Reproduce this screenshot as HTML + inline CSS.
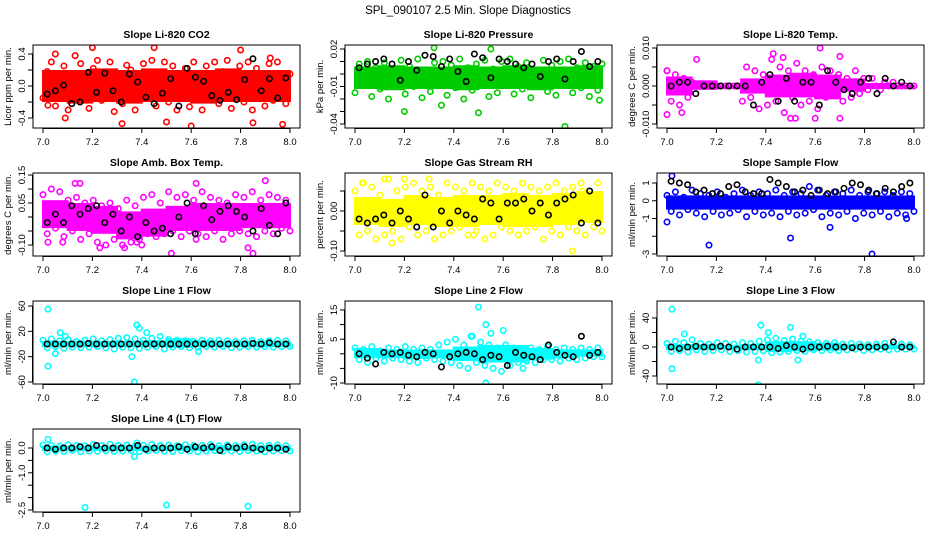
<!DOCTYPE html>
<html><head><meta charset="utf-8"><style>
html,body{margin:0;padding:0;background:#fff}
svg{display:block;font-family:"Liberation Sans",Arial,sans-serif}
</style></head><body>
<svg id="chart" width="936" height="540" viewBox="0 0 936 540">
<text x="468" y="14" text-anchor="middle" font-size="11.5">SPL_090107  2.5 Min. Slope Diagnostics</text>
</svg>
<script>
// ---- data ----
const titles=["Slope Li-820 CO2","Slope Li-820 Pressure","Slope Li-820 Temp.","Slope Amb. Box Temp.","Slope Gas Stream RH","Slope Sample Flow","Slope Line 1 Flow","Slope Line 2 Flow","Slope Line 3 Flow","Slope Line 4 (LT) Flow"];
const yTitles=["Licor ppm per min.","kPa per min.","degrees C per min.","degrees C per min.","percent per min.","ml/min per min.","ml/min per min.","ml/min per min.","ml/min per min.","ml/min per min."];
const colors=["#ff0000","#00cd00","#ff00ff","#ff00ff","#ffff00","#0000ff","#00ffff","#00ffff","#00ffff","#00ffff"];
const xTicks=[7.0,7.2,7.4,7.6,7.8,8.0];
const xTickLabels=["7.0","7.2","7.4","7.6","7.8","8.0"];
const yTicks=[[-0.4,-0.2,0,0.2,0.4],[0.02,0.01,0,-0.01,-0.02,-0.03,-0.04],[0.01,0.005,0,-0.005,-0.01],[0.15,0.1,0.05,0,-0.05,-0.1],[0.05,0,-0.05,-0.1],[1,0,-1,-2,-3],[60,20,-20,-60],[15,10,5,0,-5,-10],[40,20,0,-20,-40],[0,-0.5,-1,-1.5,-2,-2.5]];
const yTickLabels=[["-0.4","","0.0","","0.4"],["0.02","","","-0.01","","","-0.04"],["0.010","","0.000","","-0.010"],["0.15","","0.05","","","-0.10"],["","0.00","","-0.10"],["1","0","-1","","-3"],["60","20","-20","-60"],["15","","5","","","-10"],["40","","0","","-40"],["0.0","","-1.0","","","-2.5"]];
const bandLo=[[-0.2,-0.22,-0.2,-0.22,-0.2,-0.2,-0.22,-0.2,-0.2,-0.2],[-0.012,-0.013,-0.012,-0.012,-0.013,-0.012,-0.012,-0.013,-0.012,-0.012],[-0.0025,-0.001,-0.0002,-0.002,-0.003,-0.003,-0.0035,-0.0015,-0.0008,-0.0003],[-0.04,-0.05,-0.06,-0.08,-0.07,-0.05,-0.05,-0.05,-0.04,-0.04],[-0.035,-0.04,-0.035,-0.04,-0.04,-0.035,-0.04,-0.04,-0.035,-0.03],[-0.5,-0.5,-0.5,-0.5,-0.5,-0.5,-0.5,-0.5,-0.5,-0.5],[-5,-5,-5,-5,-5,-6,-5,-5,-5,-5],[-1.5,-1.5,-1.8,-1.5,-2.5,-3,-3,-2,-1.5,-1],[-4,-4,-3,-4,-7,-6,-5,-3,-3,-3],[-0.12,-0.12,-0.12,-0.12,-0.12,-0.12,-0.12,-0.12,-0.12,-0.12]];
const bandHi=[[0.2,0.2,0.22,0.2,0.22,0.2,0.2,0.22,0.2,0.2],[0.006,0.007,0.006,0.006,0.007,0.006,0.007,0.006,0.006,0.007],[0.0025,0.0015,0.0002,0.002,0.003,0.0035,0.003,0.002,0.0008,0.0003],[0.06,0.05,0.04,0.02,0.03,0.04,0.05,0.05,0.05,0.05],[0.035,0.03,0.04,0.035,0.04,0.04,0.045,0.04,0.045,0.05],[0.3,0.3,0.3,0.3,0.3,0.3,0.3,0.3,0.3,0.3],[5,5,5,5,6,9,6,5,5,5],[2,1.5,1.5,1.5,2.5,3,3,2,1.5,1.5],[4,4,3,4,8,8,6,4,3,3],[0.1,0.1,0.1,0.1,0.1,0.1,0.1,0.1,0.1,0.1]];
const colorPts=[
[-0.15,0.18,0.3,-0.25,0.1,0.25,-0.3,0.15,-0.1,0.28,0.05,-0.28,0.22,0.32,-0.18,0.12,0.3,-0.32,0.08,-0.22,0.26,0.2,-0.3,0.1,0.28,-0.12,0.32,-0.25,0.15,0.3,-0.2,0.25,-0.3,0.1,0.22,-0.26,0.3,0.05,-0.3,0.25,-0.15,0.3,-0.22,0.18,0.32,-0.28,0.12,0.25,-0.2,0.3,-0.3,0.22,0.1,-0.25,0.28,-0.18,0.3,0.05,-0.22,0.15],
[-0.015,0.008,-0.005,0.01,-0.018,0.005,-0.012,0.009,-0.02,0.004,-0.008,0.011,-0.016,0.006,-0.01,0.012,-0.019,0.003,-0.014,0.009,-0.006,0.01,-0.017,0.007,-0.011,0.012,-0.02,0.005,-0.013,0.008,-0.009,0.011,-0.018,0.004,-0.015,0.01,-0.007,0.012,-0.016,0.006,-0.012,0.009,-0.019,0.003,-0.01,0.011,-0.014,0.007,-0.017,0.01,-0.008,0.012,-0.015,0.005,-0.011,0.009,-0.018,0.006,-0.013,0.008],
[0.004,-0.004,0.003,-0.005,0.002,-0.003,0.001,0,0,0,0,0,0,0,0,0,0,0,-0.004,0.005,-0.003,0.004,-0.006,0.003,-0.005,0.007,-0.004,0.005,-0.007,0.004,-0.003,0.006,-0.005,0.004,-0.004,0.003,-0.006,0.005,-0.003,0.004,-0.002,0.003,-0.004,0.002,-0.003,0.004,-0.002,0.002,-0.001,0.002,0,-0.001,0.001,0,0.001,0,0,0,0,0],
[0.08,-0.06,0.1,-0.04,0.09,-0.07,0.06,-0.05,0.07,-0.08,0.05,-0.06,0.06,-0.09,0.04,-0.1,0.05,-0.08,0.03,-0.1,0.06,-0.09,0.04,-0.08,0.07,-0.06,0.08,-0.07,0.05,-0.06,0.09,-0.05,0.07,-0.07,0.08,-0.05,0.06,-0.06,0.09,-0.07,0.07,-0.05,0.06,-0.08,0.05,-0.06,0.08,-0.05,0.07,-0.06,0.09,-0.07,0.06,-0.05,0.08,-0.06,0.07,-0.04,0.06,-0.05],
[0.05,-0.06,0.07,-0.05,0.06,-0.07,0.04,-0.06,0.08,-0.05,0.05,-0.07,0.06,-0.04,0.07,-0.06,0.05,-0.05,0.06,-0.07,0.04,-0.06,0.07,-0.05,0.06,-0.04,0.05,-0.06,0.07,-0.05,0.06,-0.07,0.05,-0.06,0.07,-0.04,0.06,-0.05,0.05,-0.06,0.07,-0.05,0.06,-0.04,0.05,-0.07,0.06,-0.05,0.07,-0.06,0.05,-0.04,0.06,-0.05,0.07,-0.06,0.05,-0.04,0.07,-0.05],
[0.3,-0.6,0.5,-0.8,0.2,-0.5,0.6,-0.7,0.4,-0.9,0.3,-0.6,0.5,-0.8,0.2,-0.7,0.4,-0.5,0.6,-0.9,0.3,-0.6,0.5,-0.8,0.4,-0.7,0.6,-0.9,0.3,-0.6,0.5,-0.8,0.4,-0.7,0.8,-0.5,0.6,-0.9,0.3,-0.7,0.5,-0.8,0.4,-0.6,0.6,-1.0,0.3,-0.7,0.5,-0.8,0.4,-0.6,0.5,-0.9,0.3,-0.7,0.5,-0.8,0.4,-0.6],
[6,-6,8,-4,5,-7,7,-5,4,-6,6,-5,8,-4,5,-6,7,-8,9,-5,10,-6,8,-7,6,-5,9,-4,12,-8,7,-5,6,-4,5,-6,4,-5,6,-4,5,-5,6,-4,5,-6,4,-5,5,-4,6,-5,4,-4,5,-5,6,-4,5,-4],
[2,-2,1.5,-3,2.5,-1.5,1,-2.5,2,-1.5,1.5,-2,2.5,-2.5,1.5,-3,2,-1.5,1.5,-2,3,-2.5,4,-3,5,-4,3,-5,6,-3,4,-4,3,-5,2,-6,3,-4,2,-3,1.5,-2.5,2,-3,1.5,-2,2.5,-2,1.5,-2.5,2,-1.5,1.5,-2,2,-1.5,1.5,-1,2,-1],
[5,-6,8,-5,6,-7,10,-4,5,-6,4,-5,6,-4,5,-6,4,-5,6,-7,5,-6,8,-5,10,-8,12,-7,9,-6,11,-5,8,-6,7,-4,6,-5,5,-4,6,-5,4,-4,5,-3,4,-5,3,-4,4,-3,5,-4,3,-3,4,-3,3,-3],
[0.12,-0.15,0.1,-0.12,0.08,-0.14,0.13,-0.1,0.1,-0.15,0.09,-0.12,0.14,-0.13,0.1,-0.11,0.15,-0.14,0.1,-0.12,0.12,-0.1,0.09,-0.15,0.11,-0.12,0.14,-0.1,0.1,-0.13,0.12,-0.14,0.09,-0.1,0.13,-0.12,0.1,-0.15,0.11,-0.12,0.14,-0.1,0.09,-0.13,0.12,-0.12,0.1,-0.14,0.13,-0.1,0.15,-0.12,0.1,-0.15,0.11,-0.12,0.12,-0.1,0.09,-0.12]];
const blackPts=[
[-0.1,-0.06,0.01,-0.22,-0.2,0.17,-0.08,0.16,-0.06,-0.2,0.15,0.05,-0.14,-0.22,-0.09,0.09,-0.25,0.22,0.11,0.06,-0.12,-0.18,-0.08,-0.17,0.08,0.34,-0.06,0.09,-0.15,0.1],
[0.005,0.008,0.01,0.012,0.008,-0.005,0.01,0.003,0.015,0.014,0.006,0.012,0.002,-0.006,0.016,0.013,-0.003,0.012,0.01,0.008,0.005,0.008,-0.002,0.01,0.012,-0.004,0.01,0.018,0.006,0.01],
[0,0.001,0.001,-0.002,0,0,0,0,0,0,-0.005,0.001,0.003,-0.004,0.002,-0.004,0.001,0.001,-0.005,0.004,0.001,-0.001,-0.002,0.001,0.002,-0.002,0.002,0,0.001,0],
[-0.02,0.01,-0.02,0.04,0.01,0.03,0.04,-0.02,0.01,-0.05,0.0,-0.07,-0.02,-0.05,-0.04,-0.06,0.0,0.05,-0.06,0.04,-0.01,0.02,0.04,0.02,0.0,-0.05,0.03,-0.03,-0.06,0.05],
[-0.02,-0.03,-0.02,-0.01,-0.03,0.0,-0.02,-0.04,0.04,-0.04,0.0,-0.03,0.0,-0.01,-0.02,0.03,0.02,-0.02,0.02,0.02,0.03,0.0,0.02,-0.01,0.02,0.03,0.04,-0.03,0.05,-0.03],
[1.1,1.0,0.9,0.5,0.6,0.4,0.4,0.8,0.9,0.5,0.4,0.4,1.2,1.0,0.8,0.5,0.6,0.3,0.6,0.4,0.5,0.7,1.0,0.9,0.6,0.4,0.7,0.5,0.8,1.0],
[0,0,0,0,0,1,0,0,0,0,0,0,0,0,0,0,0,0,0,0,0,0,0,0,0,1,0,2,0,0],
[0,-1.5,-3.5,0.5,0,0.5,-0.5,-1,0.5,0,-4.5,-1,0,0.5,0,-2,-0.5,-1,-4,0.5,-0.5,-1,-2,3,0.5,-0.5,-1,6,-0.5,0.5],
[0,-2,0,1,0,0,1,0,-3,0,0,0,0,-2,2,0,-3,0,0,1,0,0,-1,0,0,0,0,7,0,0],
[0,-0.05,0,0,0.05,0,0.1,0,0,0,0,0.1,-0.05,0,0,0,0.05,-0.05,0.05,0,0.05,-0.1,0.05,0,0.05,0,-0.05,0,0,-0.05]];
const outliers=[
[[7.02,-0.24],[7.05,0.4],[7.13,0.38],[7.2,0.48],[7.09,-0.4],[7.32,-0.47],[7.45,0.48],[7.5,-0.45],[7.6,-0.5],[7.8,0.45],[7.85,-0.46],[7.92,0.35],[7.97,-0.48]],
[[7.2,-0.03],[7.35,-0.025],[7.5,-0.031],[7.55,0.02],[7.85,-0.042],[7.99,-0.021],[7.32,0.021]],
[[7.0,-0.0075],[7.0,0.004],[7.12,0.007],[7.06,-0.007],[7.43,0.0085],[7.47,0.0075],[7.5,-0.0085],[7.62,0.01],[7.6,-0.0085],[7.7,0.0078],[7.7,-0.0085],[7.52,-0.0085]],
[[7.02,-0.09],[7.08,-0.09],[7.13,0.12],[7.15,0.12],[7.23,-0.11],[7.33,-0.11],[7.4,-0.1],[7.52,-0.13],[7.62,-0.08],[7.62,0.12],[7.83,-0.11],[7.85,-0.13],[7.9,0.13],[7.38,-0.09]],
[[7.03,0.07],[7.12,0.08],[7.2,0.08],[7.3,0.08],[7.15,-0.08],[7.48,-0.06],[7.88,-0.1],[7.92,0.05]],
[[7.0,-1.2],[7.02,1.4],[7.17,-2.5],[7.5,-2.1],[7.66,-1.5],[7.83,-3.0],[7.97,-1.0]],
[[7.02,55],[7.02,-35],[7.05,-15],[7.07,18],[7.09,12],[7.37,-60],[7.36,-20],[7.38,30],[7.39,25],[7.42,18],[7.63,-12]],
[[7.5,16],[7.53,-10],[7.53,10],[7.55,7],[7.47,6],[7.6,8],[7.68,-5]],
[[7.02,52],[7.02,-30],[7.07,18],[7.37,-52],[7.37,-18],[7.38,30],[7.41,20],[7.5,27],[7.53,-18],[7.55,15]],
[[7.02,0.35],[7.17,-2.4],[7.37,-0.35],[7.5,-2.3],[7.83,-2.35],[7.38,0.2]]];
// ---- layout (not data) ----
const colX=[33,345,657], rowY=[45,173,301,429], boxW=267, boxH=83;
const yCal=[[0.4,9,-0.4,73],[0.02,4,-0.04,79],[0.01,3,-0.01,79],[0.15,2,-0.1,72],[0,38,-0.1,78],[1,10,-3,81],[60,5,-60,81],[15,9,-10,82],[40,17,-40,75],[0,19,-2.5,81]];
const NS="http://www.w3.org/2000/svg";
const svg=document.getElementById('chart');
function mk(tag,attrs,parent){const e=document.createElementNS(NS,tag);for(const k in attrs)e.setAttribute(k,attrs[k]);(parent||svg).appendChild(e);return e;}
for(let p=0;p<10;p++){
  const bx=colX[p%3], by=rowY[Math.floor(p/3)];
  const xS=t=>bx+10+(t-7)*247;
  const c=yCal[p];
  const yS=v=>by+c[1]+(v-c[0])*(c[3]-c[1])/(c[2]-c[0]);
  const g=mk('g',{});
  
  
  const clip=mk('clipPath',{id:'clip'+p},g);
  mk('rect',{x:bx,y:by,width:boxW,height:boxH},clip);
  const plot=mk('g',{'clip-path':'url(#clip'+p+')'},g);
  
  
  const nb=bandLo[p].length;
  for(let i=0;i<nb;i++){
    const x1=xS(7+i/nb)-1, x2=xS(7+(i+1)/nb)+1;
    const r=mk('rect',{x:x1,y:yS(bandHi[p][i]),width:x2-x1,height:Math.max(3,yS(bandLo[p][i])-yS(bandHi[p][i])),fill:colors[p]},plot);
    
    
  }
  const cp=colorPts[p];
  cp.forEach((v,i)=>{
    const e=mk('circle',{cx:xS(7+i/(cp.length-1)),cy:yS(v),r:2.7,fill:'none',stroke:colors[p],'stroke-width':1.6},plot);
    
    
  });
  outliers[p].forEach(o=>{
    const e=mk('circle',{cx:xS(o[0]),cy:yS(o[1]),r:2.7,fill:'none',stroke:colors[p],'stroke-width':1.6},plot);
    
    
  });
  const bp=blackPts[p];
  bp.forEach((v,i)=>{
    const e=mk('circle',{cx:xS(7+(i+0.5)/bp.length),cy:yS(v),r:2.7,fill:'none',stroke:'#000','stroke-width':1.6},plot);
    
    
  });
  const box=mk('rect',{x:bx,y:by,width:boxW,height:boxH,fill:'none',stroke:'#000','stroke-width':1},g);
  
  
  const tt=mk('text',{x:bx+boxW/2,y:by-7,'text-anchor':'middle','font-size':10.5,'font-weight':'bold'},g);
  tt.textContent=titles[p];
  
  
  mk('line',{x1:xS(7),x2:xS(8),y1:by+boxH+0.5,y2:by+boxH+0.5,stroke:'#000'},g);
  xTicks.forEach((t,i)=>{
    mk('line',{x1:xS(t),x2:xS(t),y1:by+boxH,y2:by+boxH+5,stroke:'#000'},g);
    const l=mk('text',{x:xS(t),y:by+boxH+17,'text-anchor':'middle','font-size':9.5},g);
    l.textContent=xTickLabels[i];
    
    
  });
  const yt=yTicks[p];
  mk('line',{x1:bx-0.5,x2:bx-0.5,y1:yS(yt[0]),y2:yS(yt[yt.length-1]),stroke:'#000'},g);
  yt.forEach((v,i)=>{
    mk('line',{x1:bx-5,x2:bx,y1:yS(v),y2:yS(v),stroke:'#000'},g);
    if(yTickLabels[p][i]){
      const y=yS(v);
      const l=mk('text',{x:bx-8,y:y,'text-anchor':'middle','font-size':9.5,transform:'rotate(-90 '+(bx-8)+' '+y+')'},g);
      l.textContent=yTickLabels[p][i];
      
      
    }
  });
  const yl=by+boxH/2;
  const ylab=mk('text',{x:bx-22,y:yl,'text-anchor':'middle','font-size':9.5,transform:'rotate(-90 '+(bx-22)+' '+yl+')'},g);
  ylab.textContent=yTitles[p];
  
  
}
</script>
</body></html>
